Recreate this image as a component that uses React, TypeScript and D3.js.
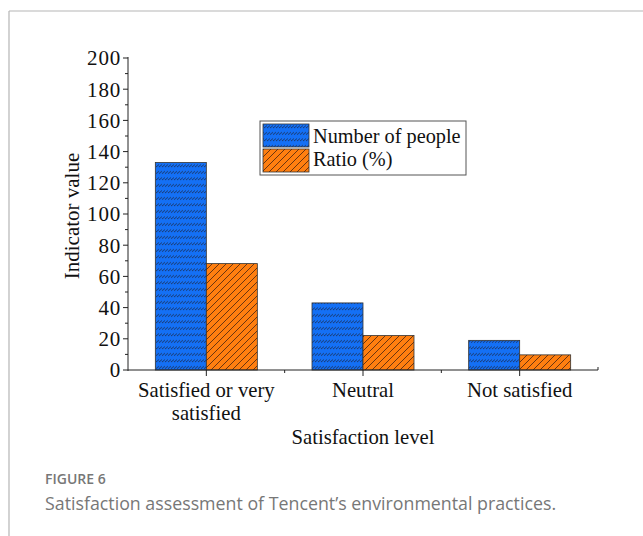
import React from "react";
import * as d3 from "d3";

const categories = ["Satisfied or very satisfied", "Neutral", "Not satisfied"];
const categoryLines = [["Satisfied or very", "satisfied"], ["Neutral"], ["Not satisfied"]];
const peopleValues = [133, 43, 19];
const ratioValues = [68.2, 22.1, 9.7];
const seriesNames = ["Number of people", "Ratio (%)"];
const yTicks = [0, 20, 40, 60, 80, 100, 120, 140, 160, 180, 200];

const W = 643, H = 536;
const left = 128, right = 598, top = 58, bottom = 370;
const serif = "'Liberation Serif', 'Times New Roman', serif";
const sans = "'Open Sans', 'Noto Sans', sans-serif";
const BLUE = "#1470f5";
const ORANGE = "#ff7f10";

export default function App() {
  const x = d3.scaleBand<string>().domain(categories).range([left, right]).padding(0);
  const y = d3.scaleLinear().domain([0, 200]).range([bottom, top]);
  const barW = 51;
  const minor = d3.range(10, 200, 20);

  return (
    <svg width={W} height={H} style={{ position: "absolute", left: 0, top: 0, background: "#fff" }}>
      <defs>
        <pattern id="pBlue" patternUnits="userSpaceOnUse" width={3} height={6.5}>
          <rect width={3} height={6.5} fill={BLUE} />
          <path d="M0,4.6 L3,2.2" stroke="#1b2f55" strokeWidth={0.9} />
        </pattern>
        <pattern id="pOrange" patternUnits="userSpaceOnUse" width={7} height={7}>
          <rect width={7} height={7} fill={ORANGE} />
          <path d="M0,7 L7,0 M-1,1 L1,-1 M6,8 L8,6" stroke="#5a2c10" strokeWidth={0.9} />
        </pattern>
      </defs>
      {/* frame */}
      <line x1={9} y1={11} x2={W} y2={11} stroke="#b5b5b5" strokeWidth={1.2} />
      <line x1={9} y1={11} x2={9} y2={H} stroke="#b5b5b5" strokeWidth={1.2} />

      {/* bars */}
      {categories.map((c, i) => {
        const cx = (x(c) as number) + x.bandwidth() / 2;
        return (
          <g key={c}>
            <rect x={cx - barW} y={y(peopleValues[i])} width={barW} height={bottom - y(peopleValues[i])}
              fill="url(#pBlue)" stroke="#333" strokeWidth={0.8} />
            <rect x={cx} y={y(ratioValues[i])} width={barW} height={bottom - y(ratioValues[i])}
              fill="url(#pOrange)" stroke="#333" strokeWidth={0.8} />
          </g>
        );
      })}

      {/* y axis */}
      <line x1={left} y1={top - 1} x2={left} y2={bottom + 1} stroke="#222" strokeWidth={1} />
      {yTicks.map((t) => (
        <g key={t}>
          <line x1={left - 5} x2={left} y1={y(t)} y2={y(t)} stroke="#222" />
          <text x={left - 7} y={y(t)} dy="0.35em" textAnchor="end" fontFamily={serif} fontSize={21} letterSpacing={0.8} fill="#111">{t}</text>
        </g>
      ))}
      {minor.map((t) => (
        <line key={t} x1={left - 3} x2={left} y1={y(t)} y2={y(t)} stroke="#222" />
      ))}
      <text transform={`translate(79,${(top + bottom) / 2 + 2}) rotate(-90)`} textAnchor="middle"
        fontFamily={serif} fontSize={21} fill="#111">Indicator value</text>

      {/* x axis */}
      <line x1={left} y1={bottom} x2={right} y2={bottom} stroke="#222" strokeWidth={1} />
      {categories.map((c, i) => {
        const cx = (x(c) as number) + x.bandwidth() / 2;
        return (
          <g key={c}>
            <line x1={cx} x2={cx} y1={bottom} y2={bottom + 6} stroke="#222" />
            {categoryLines[i].map((l, j) => (
              <text key={j} x={cx} y={397 + j * 23} textAnchor="middle" fontFamily={serif} fontSize={20.7} fill="#111">{l}</text>
            ))}
          </g>
        );
      })}
      {categories.slice(1).map((c) => (
        <line key={c} x1={x(c) as number} x2={x(c) as number} y1={bottom} y2={bottom + 3} stroke="#222" />
      ))}
      <line x1={right} x2={right} y1={bottom} y2={bottom - 3} stroke="#222" />
      <text x={363} y={444} textAnchor="middle" fontFamily={serif} fontSize={20.7} fill="#111">Satisfaction level</text>

      {/* legend */}
      <rect x={260} y={121} width={206} height={54} fill="#fff" stroke="#555" strokeWidth={1} />
      <rect x={263} y={124} width={46} height={23} fill="url(#pBlue)" stroke="#333" strokeWidth={0.8} />
      <rect x={263} y={149} width={46} height={23} fill="url(#pOrange)" stroke="#333" strokeWidth={0.8} />
      <text x={313} y={143} fontFamily={serif} fontSize={20.3} fill="#111">{seriesNames[0]}</text>
      <text x={313} y={166} fontFamily={serif} fontSize={20.3} fill="#111">{seriesNames[1]}</text>

      {/* caption */}
      <text x={45} y={484} fontFamily={sans} fontSize={14} fontWeight={600} fill="#777">FIGURE 6</text>
      <text x={45} y={510} fontFamily={sans} fontSize={17.8} fill="#777">Satisfaction assessment of Tencent’s environmental practices.</text>
    </svg>
  );
}
